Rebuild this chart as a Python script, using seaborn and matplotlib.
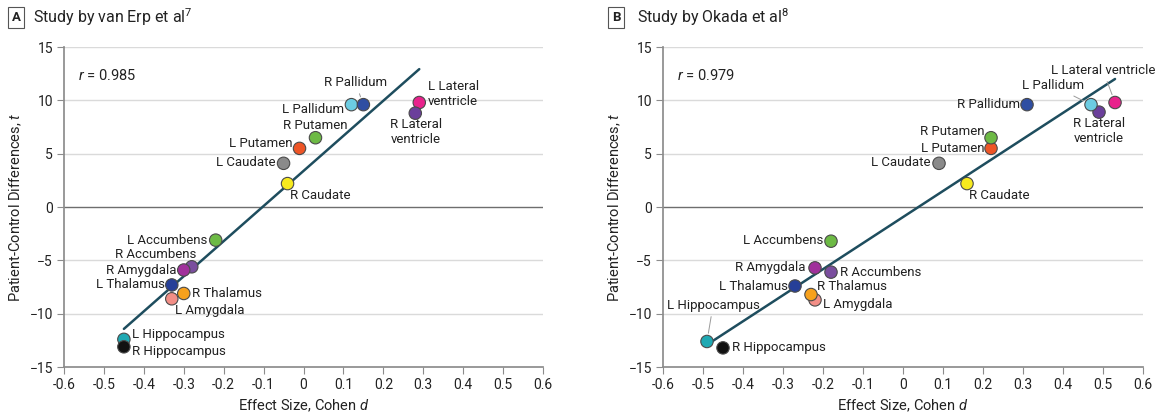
"""Effect size vs patient-control t statistics, two studies side by side."""

import matplotlib

matplotlib.use("Agg")

import matplotlib.pyplot as plt
import pandas as pd
import seaborn as sns


REGIONS = [
    "L Lateral ventricle", "R Lateral ventricle", "L Pallidum", "R Pallidum",
    "L Putamen", "R Putamen", "L Caudate", "R Caudate",
    "L Accumbens", "R Accumbens", "L Amygdala", "R Amygdala",
    "L Thalamus", "R Thalamus", "L Hippocampus", "R Hippocampus",
]
VAN_ERP_D = [0.29, 0.28, 0.12, 0.15, -0.01, 0.03, -0.05, -0.04,
             -0.22, -0.28, -0.33, -0.30, -0.33, -0.30, -0.45, -0.45]
VAN_ERP_T = [9.8, 8.8, 9.6, 9.6, 5.5, 6.5, 4.1, 2.2,
             -3.1, -5.6, -8.6, -5.9, -7.3, -8.1, -12.4, -13.1]
OKADA_D = [0.53, 0.49, 0.47, 0.31, 0.22, 0.22, 0.09, 0.16,
           -0.18, -0.18, -0.22, -0.22, -0.27, -0.23, -0.49, -0.45]
OKADA_T = [9.8, 8.9, 9.6, 9.6, 5.5, 6.5, 4.1, 2.2,
           -3.2, -6.1, -8.7, -5.7, -7.4, -8.2, -12.6, -13.2]
X_TICKS = [-0.6, -0.5, -0.4, -0.3, -0.2, -0.1, 0, 0.1, 0.2, 0.3, 0.4, 0.5, 0.6]
X_TICK_LABELS = ["-0.6", "-0.5", "-0.4", "-0.3", "-0.2", "-0.1", "0",
                 "0.1", "0.2", "0.3", "0.4", "0.5", "0.6"]
Y_TICKS = [-15, -10, -5, 0, 5, 10, 15]

PALETTE = {
    "L Lateral ventricle": "#E8228C",
    "R Lateral ventricle": "#6B3F9B",
    "L Pallidum": "#6CCCE2",
    "R Pallidum": "#2F4EA2",
    "L Putamen": "#EE5526",
    "R Putamen": "#6DBA45",
    "L Caudate": "#8A8A8A",
    "R Caudate": "#F7EA1E",
    "L Accumbens": "#6DBA45",
    "R Accumbens": "#7A4E9E",
    "L Amygdala": "#F28E86",
    "R Amygdala": "#A0309B",
    "L Thalamus": "#263F98",
    "R Thalamus": "#F7A11D",
    "L Hippocampus": "#1FA9B3",
    "R Hippocampus": "#111111",
}
LINE = "#1E4D5E"
GRID = "#DADADA"
AXIS = "#8C8C8C"
TEXT = "#222222"
FONT = ["Roboto", "DejaVu Sans"]

# label placement: text, dx px, dy px (up), ha, leader line
LABELS_A = {
    "L Lateral ventricle": ("L Lateral\nventricle", 9, 9, "left", False),
    "R Lateral ventricle": ("R Lateral\nventricle", 1, -19, "center", False),
    "L Pallidum": ("L Pallidum", -7, -5, "right", False),
    "R Pallidum": ("R Pallidum", -8, 22, "center", True),
    "L Putamen": ("L Putamen", -7, 5, "right", False),
    "R Putamen": ("R Putamen", 0, 12, "center", False),
    "L Caudate": ("L Caudate", -8, 1, "right", False),
    "R Caudate": ("R Caudate", 2, -12, "left", False),
    "L Accumbens": ("L Accumbens", -8, 0, "right", False),
    "R Accumbens": ("R Accumbens", 5, 12, "right", False),
    "L Amygdala": ("L Amygdala", 3, -12, "left", False),
    "R Amygdala": ("R Amygdala", -7, 0, "right", False),
    "L Thalamus": ("L Thalamus", -7, 0, "right", False),
    "R Thalamus": ("R Thalamus", 8, 0, "left", False),
    "L Hippocampus": ("L Hippocampus", 8, 5, "left", False),
    "R Hippocampus": ("R Hippocampus", 8, -5, "left", False),
}
LABELS_B = {
    "L Lateral ventricle": ("L Lateral ventricle", -12, 32, "center", True),
    "R Lateral ventricle": ("R Lateral\nventricle", 0, -19, "center", False),
    "L Pallidum": ("L Pallidum", -38, 19, "center", True),
    "R Pallidum": ("R Pallidum", -7, 0, "right", False),
    "L Putamen": ("L Putamen", -7, 0, "right", False),
    "R Putamen": ("R Putamen", -7, 6, "right", False),
    "L Caudate": ("L Caudate", -9, 1, "right", False),
    "R Caudate": ("R Caudate", 2, -12, "left", False),
    "L Accumbens": ("L Accumbens", -8, 1, "right", False),
    "R Accumbens": ("R Accumbens", 9, 0, "left", False),
    "L Amygdala": ("L Amygdala", 8, -5, "left", False),
    "R Amygdala": ("R Amygdala", -10, 0, "right", False),
    "L Thalamus": ("L Thalamus", -7, 0, "right", False),
    "R Thalamus": ("R Thalamus", 6, 8, "left", False),
    "L Hippocampus": ("L Hippocampus", 6, 36, "center", True),
    "R Hippocampus": ("R Hippocampus", 9, 0, "left", False),
}


def set_style() -> None:
    sns.set_theme(style="white")
    plt.rcParams.update(
        {
            "font.family": FONT,
            "mathtext.fontset": "custom",
            "mathtext.rm": "Roboto",
            "mathtext.it": "Roboto:italic",
            "text.color": TEXT,
            "axes.labelcolor": TEXT,
            "xtick.color": TEXT,
            "ytick.color": TEXT,
        }
    )


def panel(ax, d, t, labels, r_text) -> None:
    data = pd.DataFrame({"region": REGIONS, "d": d, "t": t})

    for y in Y_TICKS[1:]:
        ax.axhline(y, color="#6E6E6E" if y == 0 else GRID, linewidth=1.0, zorder=0)

    sns.regplot(
        data=data, x="d", y="t", ax=ax, scatter=False, ci=None, truncate=True,
        line_kws={"color": LINE, "linewidth": 1.8, "zorder": 2},
    )
    sns.scatterplot(
        data=data, x="d", y="t", hue="region", palette=PALETTE, ax=ax,
        s=80, edgecolor="#4A4A4A", linewidth=0.8, legend=False, zorder=3,
    )

    for _, row in data.iterrows():
        text, dx, dy, ha, leader = labels[row["region"]]
        ax.annotate(
            text, (row["d"], row["t"]), xytext=(dx, dy), textcoords="offset pixels",
            ha=ha, va="center", fontsize=9.5, color=TEXT,
            arrowprops={"arrowstyle": "-", "color": "#9A9A9A", "linewidth": 0.7,
                        "shrinkA": 1, "shrinkB": 6} if leader else None,
            zorder=4,
        )

    ax.text(0.03, 0.912, r_text, transform=ax.transAxes, fontsize=10.5, va="center")
    ax.set_xlim(-0.6, 0.6)
    ax.set_ylim(-15, 15)
    ax.set_xticks(X_TICKS, X_TICK_LABELS)
    ax.set_yticks(Y_TICKS)
    ax.tick_params(axis="both", direction="out", length=5, width=0.8,
                   color=AXIS, labelsize=10, bottom=True, left=True, pad=3)
    ax.set_xlabel("Effect Size, Cohen $d$", fontsize=10.5, labelpad=4)
    ax.set_ylabel("Patient-Control Differences, $t$", fontsize=10.5, labelpad=4)
    ax.spines[["top", "right"]].set_visible(False)
    ax.spines[["left", "bottom"]].set_color(AXIS)


def panel_title(fig, x_box, x_text, letter, title) -> None:
    fig.text(x_box, 0.958, letter, ha="center", va="center", fontsize=9.5,
             fontweight="bold", bbox={"boxstyle": "square,pad=0.3", "fc": "white",
                                      "ec": "#555555", "lw": 0.8})
    fig.text(x_text, 0.958, title, ha="left", va="center", fontsize=11.5)


def main() -> None:
    set_style()
    fig = plt.figure(figsize=(11.66, 4.2), dpi=100)
    ax_a = fig.add_axes([0.0549, 0.126, 0.4108, 0.762])
    ax_b = fig.add_axes([0.5686, 0.126, 0.4117, 0.762])

    panel(ax_a, VAN_ERP_D, VAN_ERP_T, LABELS_A, "$r$ = 0.985")
    panel(ax_b, OKADA_D, OKADA_T, LABELS_B, "$r$ = 0.979")

    panel_title(fig, 0.0137, 0.028, "A", "Study by van Erp et al$^{7}$")
    panel_title(fig, 0.5283, 0.5463, "B", "Study by Okada et al$^{8}$")

    fig.savefig("out.png", dpi=100, facecolor="white")
    plt.close(fig)


if __name__ == "__main__":
    main()
